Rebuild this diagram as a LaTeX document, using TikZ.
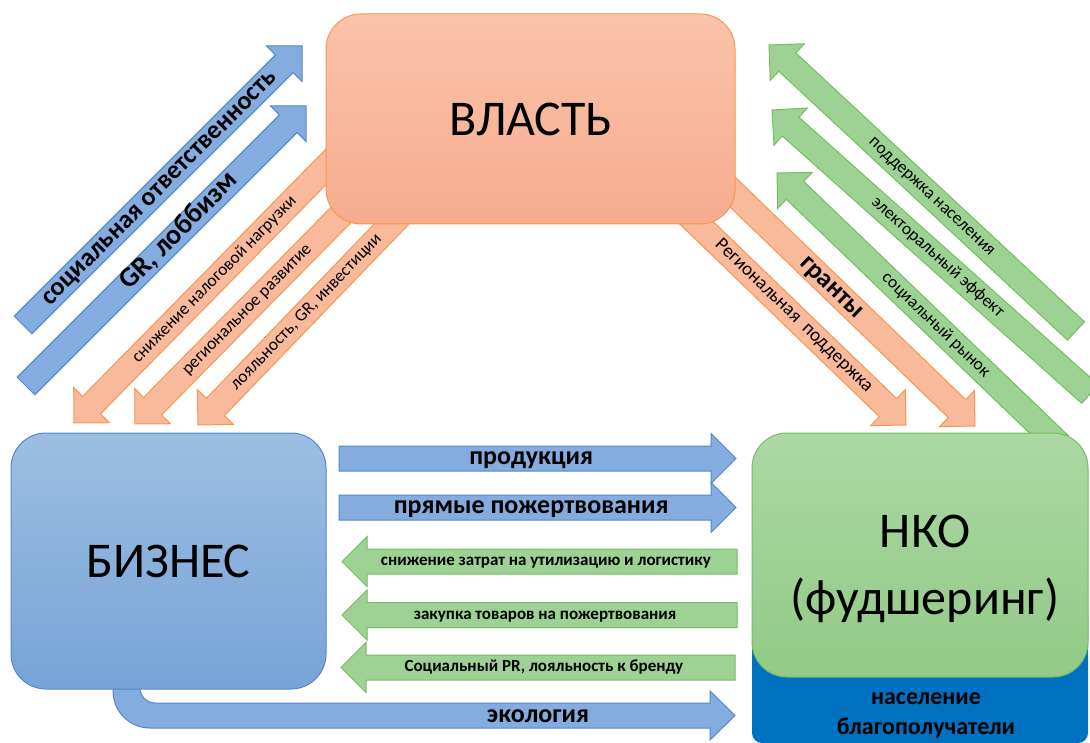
\documentclass[tikz,border=0pt]{standalone}
\usepackage{fontspec}
\setmainfont{Carlito}
\usetikzlibrary{calc}

\definecolor{blueedge}{RGB}{80,136,208}
\definecolor{bluefill}{RGB}{132,172,222}
\definecolor{bluetop}{RGB}{157,190,226}
\definecolor{bluebot}{RGB}{118,164,215}
\definecolor{orangeedge}{RGB}{247,150,80}
\definecolor{orangefill}{RGB}{249,185,155}
\definecolor{orangetop}{RGB}{250,195,170}
\definecolor{orangebot}{RGB}{246,172,142}
\definecolor{greenedge}{RGB}{118,188,98}
\definecolor{greenfill}{RGB}{158,210,148}
\definecolor{greentop}{RGB}{172,216,164}
\definecolor{greenbot}{RGB}{146,202,134}
\definecolor{deepblue}{RGB}{0,112,192}

\newcommand{\bw}{12.5pt}
\newcommand{\hw}{25pt}
\newcommand{\hl}{25pt}
% block arrow: style, tail, tip, label pos, label style, label
\newcommand{\bigarrow}[6]{%
  \coordinate (hb) at ($#3!\hl!#2$);
  \filldraw[#1] ($#2!\bw!90:#3$) -- ($(hb)!\bw!90:#3$) -- ($(hb)!\hw!90:#3$) -- #3
    -- ($(hb)!\hw!-90:#3$) -- ($(hb)!\bw!-90:#3$) -- ($#2!\bw!-90:#3$) -- cycle;
  \path #2 -- #3 node[pos=#4, sloped, anchor=center, #5] {#6};
}

\tikzset{
  bluearrow/.style={fill=bluefill, draw=blueedge, line width=1pt},
  orangearrow/.style={fill=orangefill, draw=orangeedge, line width=1pt},
  greenarrow/.style={fill=greenfill, draw=greenedge, line width=1pt},
  box/.style={rounded corners=35pt, inner sep=0pt, line width=1pt,
    font=\fontsize{50}{67}\selectfont},
  biglabel/.style={font=\fontsize{26}{30}\selectfont\bfseries,
    inner sep=0pt, text height=12pt, text depth=0pt},
  boldlabel/.style={font=\fontsize{17}{20}\selectfont\bfseries,
    inner sep=0pt, text height=8pt, text depth=0pt},
  thinlabel/.style={font=\fontsize{17.5}{20}\selectfont,
    inner sep=0pt, text height=8pt, text depth=0pt},
}

\begin{document}
\begin{tikzpicture}[x=1pt, y=-1pt]
  \useasboundingbox (0,0) rectangle (1090,743);

  % business -> power
  \bigarrow{bluearrow}{(23,325)}{(302,46)}{0.49}{biglabel}{социальная ответственность}
  \bigarrow{bluearrow}{(26,386)}{(306,106)}{0.55}{biglabel, font=\fontsize{28}{30}\selectfont\bfseries}{GR, лоббизм}

  % power -> business
  \bigarrow{orangearrow}{(380,112)}{(74,423)}{0.54}{thinlabel}{снижение налоговой нагрузки}
  \bigarrow{orangearrow}{(400,155)}{(135,424)}{0.576}{thinlabel}{региональное развитие}
  \bigarrow{orangearrow}{(434,180)}{(198,425)}{0.54}{thinlabel}{лояльность, GR, инвестиции}

  % power -> NGO
  \bigarrow{orangearrow}{(650,178)}{(906,425)}{0.56}{thinlabel, font=\fontsize{19}{22}\selectfont}{Региональная\ \ поддержка}
  \bigarrow{orangearrow}{(719,179)}{(975,426)}{0.44}{biglabel}{гранты}

  % NGO -> power
  \bigarrow{greenarrow}{(1076,331)}{(769,45)}{0.47}{thinlabel}{поддержка населения}
  \bigarrow{greenarrow}{(1090,394)}{(772,110)}{0.48}{thinlabel}{электоральный эффект}
  \bigarrow{greenarrow}{(1060,445)}{(777,173)}{0.44}{thinlabel}{социальный рынок}

  % business <-> NGO
  \bigarrow{bluearrow}{(339,458.5)}{(736,458.5)}{0.484}{biglabel}{продукция}
  \bigarrow{bluearrow}{(339,507.5)}{(736,507.5)}{0.484}{biglabel}{прямые пожертвования}
  \bigarrow{greenarrow}{(737,561.5)}{(342,561.5)}{0.484}{boldlabel}{снижение затрат на утилизацию и логистику}
  \bigarrow{greenarrow}{(737,615)}{(342,615)}{0.486}{boldlabel}{закупка товаров на пожертвования}
  \bigarrow{greenarrow}{(735,667.5)}{(341,667.5)}{0.485}{boldlabel}{Социальный PR, лояльность к бренду}

  \filldraw[bluearrow] (113,680) -- (113,691) arc[start angle=180, end angle=270, radius=37pt]
    -- (710,728) -- (710,740) -- (735,715.5) -- (710,691) -- (710,703) -- (155,703)
    arc[start angle=270, end angle=180, radius=15pt] -- (140,680) -- cycle;
  \node[biglabel] (ecology) at (538,716) {экология};

  % boxes
  \node[box, top color=orangetop, bottom color=orangebot, draw=orangeedge,
    minimum width=409pt, minimum height=210pt] (power) at (530.5,119) {ВЛАСТЬ};
  \node[box, top color=bluetop, bottom color=bluebot, draw=blueedge,
    minimum width=315pt, minimum height=256pt] (business) at (168.5,561) {БИЗНЕС};
  \node[fill=deepblue, rounded corners=10pt, minimum width=336pt, minimum height=143pt]
    (people) at (920,671.5) {};
  \node[box, top color=greentop, bottom color=greenbot, draw=greenedge,
    minimum width=336pt, minimum height=244pt] (ngo) at (920,555) {};
  \node[align=center, font=\fontsize{50}{67}\selectfont] (ngotext) at (925,569) {НКО\\(фудшеринг)};
  \node[align=center, font=\fontsize{24}{30}\selectfont\bfseries] (peopletext) at (926,715)
    {население\\благополучатели};
\end{tikzpicture}
\end{document}
